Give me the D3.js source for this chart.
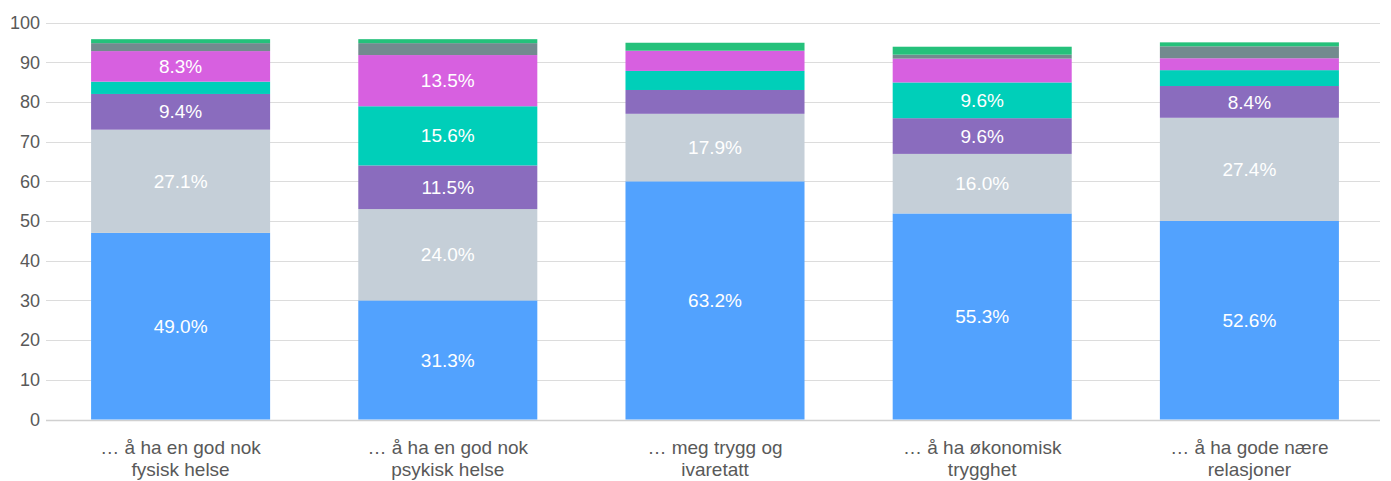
<!DOCTYPE html>
<html>
<head>
<meta charset="utf-8">
<script src="https://cdn.jsdelivr.net/npm/d3@7"></script>
<style>
  html, body { margin: 0; padding: 0; background: #fff; }
  svg { display: block; font-family: "Liberation Sans", Arial, Helvetica, sans-serif; }
</style>
</head>
<body>
<svg id="chart" width="1391" height="481"></svg>
<script>
// ---- data ----
const categories = [
  ["… å ha en god nok", "fysisk helse"],
  ["… å ha en god nok", "psykisk helse"],
  ["… meg trygg og", "ivaretatt"],
  ["… å ha økonomisk", "trygghet"],
  ["… å ha gode nære", "relasjoner"]
];
const yTicks = [0, 10, 20, 30, 40, 50, 60, 70, 80, 90, 100];

// segment heights (axis units), bottom to top
const seriesBlue     = [47.0, 30.0, 60.0, 51.9, 50.0];
const seriesLightGray= [26.0, 23.0, 17.0, 15.0, 26.0];
const seriesPurple   = [9.0, 11.0, 6.0, 9.0, 8.0];
const seriesTeal     = [3.1, 14.9, 4.8, 9.0, 4.0];
const seriesMagenta  = [7.7, 12.9, 5.1, 6.0, 3.0];
const seriesGray     = [2.0, 3.0, 0.0, 1.0, 3.0];
const seriesGreen    = [1.0, 1.0, 2.0, 2.0, 1.0];

// data labels shown in segments
const labelsBlue      = ["49.0%", "31.3%", "63.2%", "55.3%", "52.6%"];
const labelsLightGray = ["27.1%", "24.0%", "17.9%", "16.0%", "27.4%"];
const labelsPurple    = ["9.4%", "11.5%", "", "9.6%", "8.4%"];
const labelsTeal      = ["", "15.6%", "", "9.6%", ""];
const labelsMagenta   = ["8.3%", "13.5%", "", "", ""];
const labelsGray      = ["", "", "", "", ""];
const labelsGreen     = ["", "", "", "", ""];

const seriesKeys = ["blue", "lightgray", "purple", "teal", "magenta", "gray", "green"];
const seriesValues = [seriesBlue, seriesLightGray, seriesPurple, seriesTeal, seriesMagenta, seriesGray, seriesGreen];
const seriesLabels = [labelsBlue, labelsLightGray, labelsPurple, labelsTeal, labelsMagenta, labelsGray, labelsGreen];
const seriesColors = ["#52a2fe", "#c5cfd8", "#8a6cbe", "#00cfb9", "#d760e0", "#738a8f", "#25c17b"];

// ---- build table ----
const table = categories.map((c, i) => {
  const row = { idx: i };
  seriesKeys.forEach((k, s) => { row[k] = seriesValues[s][i]; });
  return row;
});
const stacked = d3.stack().keys(seriesKeys)(table);

const svg = d3.select("#chart");
const x = d3.scaleBand().domain(d3.range(categories.length)).range([47, 1383]).paddingInner(0.33).paddingOuter(0.165);
const y = d3.scaleLinear().domain([0, 100]).range([419.5, 22.5]);

// gridlines
svg.append("g").selectAll("line").data(yTicks).join("line")
  .attr("x1", 46).attr("x2", 1380)
  .attr("y1", d => Math.round(y(d)) + 0.5).attr("y2", d => Math.round(y(d)) + 0.5)
  .attr("stroke", d => d === 0 ? "#d0d0d0" : "#dcdcdc")
  .attr("stroke-width", d => d === 0 ? 1.5 : 1);

// y tick labels
svg.append("g").selectAll("text").data(yTicks).join("text")
  .attr("x", 40).attr("y", d => y(d))
  .attr("dy", "0.35em")
  .attr("text-anchor", "end")
  .attr("fill", "#595959")
  .style("font-size", "18px")
  .text(d => d);

// bars
const layers = svg.append("g").selectAll("g").data(stacked).join("g")
  .attr("fill", (d, i) => seriesColors[i]);
layers.selectAll("rect").data(d => d).join("rect")
  .attr("x", d => x(d.data.idx))
  .attr("width", x.bandwidth())
  .attr("y", d => y(d[1]))
  .attr("height", d => Math.max(0, y(d[0]) - y(d[1])));

// segment labels
const lab = svg.append("g");
stacked.forEach((layer, s) => {
  layer.forEach((d, i) => {
    const t = seriesLabels[s][i];
    if (!t) return;
    lab.append("text")
      .attr("x", x(i) + x.bandwidth() / 2)
      .attr("y", (y(d[0]) + y(d[1])) / 2)
      .attr("dy", "0.35em")
      .attr("text-anchor", "middle")
      .attr("fill", "#ffffff")
      .style("font-size", "19px")
      .text(t);
  });
});

// category labels
const cat = svg.append("g");
categories.forEach((lines, i) => {
  const t = cat.append("text")
    .attr("x", x(i) + x.bandwidth() / 2)
    .attr("y", 454)
    .attr("text-anchor", "middle")
    .attr("fill", "#595959")
    .style("font-size", "19px");
  lines.forEach((ln, j) => {
    t.append("tspan").attr("x", x(i) + x.bandwidth() / 2).attr("y", 454 + j * 22).text(ln);
  });
});
</script>
</body>
</html>
